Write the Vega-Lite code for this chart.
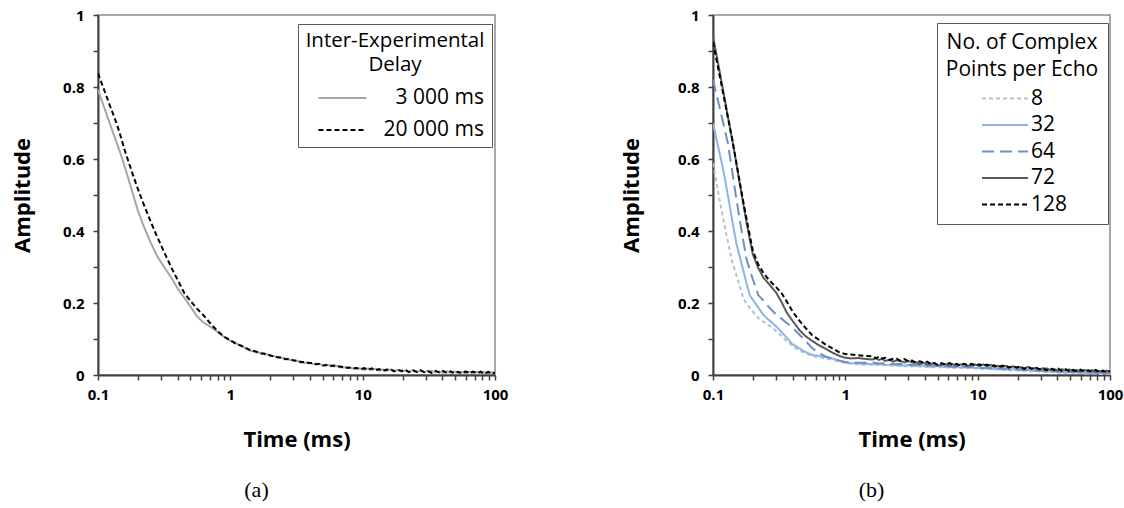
{
  "$schema": "https://vega.github.io/schema/vega-lite/v6.json",
  "background": "white",
  "padding": {"left": 10, "top": 7, "right": 0, "bottom": 0},
  "spacing": 110,
  "resolve": {"scale": {"color": "independent", "strokeDash": "independent"}, "legend": {"color": "independent", "strokeDash": "independent"}},
  "config": {
    "font": "Open Sans",
    "view": {"stroke": "#8c8c8c", "strokeWidth": 1.5},
    "axis": {
      "grid": false, "domainColor": "#404040", "domainWidth": 2,
      "tickColor": "#404040", "tickWidth": 1.5, "tickSize": 5,
      "labelFont": "Open Sans", "labelFontSize": 15, "labelFontWeight": "bold", "labelColor": "#000000",
      "titleFont": "Open Sans", "titleFontSize": 22, "titleFontWeight": "bold", "titleColor": "#000000",
      "labelOverlap": false, "labelFlush": false, "labelBound": false
    },
    "legend": {
      "labelFont": "Open Sans", "titleFont": "Open Sans", "labelColor": "#000000", "titleColor": "#000000",
      "strokeColor": "#595959", "fillColor": "white", "symbolStrokeWidth": 2, "symbolFillColor": "transparent"
    }
  },
  "hconcat": [
    {
      "width": 397, "height": 360,
      "title": {"text": "(a)", "orient": "bottom", "anchor": "middle", "frame": "group", "font": "Liberation Serif", "fontSize": 22, "fontWeight": "normal", "color": "#000000", "offset": 30, "dx": -40},
      "data": {"values": [
        {"t":0.1,"g":0.792,"d":0.838},{"t":0.11,"g":0.749,"d":0.797},{"t":0.12,"g":0.709,"d":0.759},{"t":0.13,"g":0.673,"d":0.725},
        {"t":0.14,"g":0.64,"d":0.693},{"t":0.15,"g":0.609,"d":0.657},{"t":0.16,"g":0.576,"d":0.622},{"t":0.18,"g":0.514,"d":0.565},
        {"t":0.2,"g":0.457,"d":0.517},{"t":0.22,"g":0.416,"d":0.477},{"t":0.25,"g":0.368,"d":0.426},{"t":0.28,"g":0.33,"d":0.384},
        {"t":0.32,"g":0.297,"d":0.337},{"t":0.36,"g":0.269,"d":0.297},{"t":0.4,"g":0.24,"d":0.264},{"t":0.45,"g":0.214,"d":0.227},
        {"t":0.5,"g":0.19,"d":0.206},{"t":0.56,"g":0.163,"d":0.184},{"t":0.63,"g":0.145,"d":0.165},{"t":0.7,"g":0.135,"d":0.145},
        {"t":0.8,"g":0.12,"d":0.122},{"t":0.9,"g":0.105,"d":0.106},{"t":1.0,"g":0.095,"d":0.097},{"t":1.1,"g":0.089,"d":0.087},
        {"t":1.25,"g":0.078,"d":0.079},{"t":1.4,"g":0.068,"d":0.07},
        {"t":1.6,"g":0.062,"d":0.064},{"t":1.7,"g":0.062,"d":0.06},{"t":1.8,"g":0.0575,"d":0.0595},{"t":1.9,"g":0.0575,"d":0.0555},
        {"t":2.0,"g":0.053,"d":0.055},{"t":2.15,"g":0.0525,"d":0.0505},{"t":2.3,"g":0.0475,"d":0.0495},{"t":2.45,"g":0.048,"d":0.048},
        {"t":2.6,"g":0.0455,"d":0.044},{"t":2.8,"g":0.042,"d":0.0445},{"t":3.0,"g":0.0425,"d":0.04},{"t":3.2,"g":0.0385,"d":0.0395},
        {"t":3.4,"g":0.038,"d":0.0355},{"t":3.65,"g":0.0335,"d":0.036},{"t":3.9,"g":0.035,"d":0.0335},{"t":4.15,"g":0.031,"d":0.0335},
        {"t":4.4,"g":0.0315,"d":0.03},{"t":4.7,"g":0.0315,"d":0.0305},{"t":5.0,"g":0.027,"d":0.0265},{"t":5.35,"g":0.0265,"d":0.028},
        {"t":5.7,"g":0.0275,"d":0.025},{"t":6.1,"g":0.024,"d":0.0265},{"t":6.5,"g":0.025,"d":0.0235},{"t":6.95,"g":0.0205,"d":0.023},
        {"t":7.4,"g":0.0215,"d":0.0195},{"t":7.9,"g":0.021,"d":0.021},{"t":8.4,"g":0.018,"d":0.0185},{"t":9.0,"g":0.0185,"d":0.0195},
        {"t":9.6,"g":0.018,"d":0.016},{"t":10.3,"g":0.0145,"d":0.019},{"t":11,"g":0.0185,"d":0.014},{"t":11.7,"g":0.014,"d":0.0185},
        {"t":12.5,"g":0.017,"d":0.0135},{"t":13.3,"g":0.012,"d":0.0165},{"t":14.2,"g":0.0155,"d":0.011},{"t":15.2,"g":0.0115,"d":0.015},
        {"t":16.2,"g":0.0155,"d":0.016},{"t":17.3,"g":0.0115,"d":0.01},{"t":18.5,"g":0.014,"d":0.014},{"t":19.7,"g":0.0095,"d":0.011},
        {"t":21,"g":0.0125,"d":0.0145},{"t":22.4,"g":0.009,"d":0.008},{"t":24,"g":0.0135,"d":0.013},{"t":25.6,"g":0.009,"d":0.0085},
        {"t":27.3,"g":0.012,"d":0.0135},{"t":29.2,"g":0.0075,"d":0.008},{"t":31.2,"g":0.011,"d":0.0105},{"t":33.3,"g":0.011,"d":0.006},
        {"t":35.5,"g":0.007,"d":0.0115},{"t":38,"g":0.0095,"d":0.007},{"t":40.5,"g":0.006,"d":0.0115},{"t":43.3,"g":0.01,"d":0.0055},
        {"t":46.2,"g":0.0065,"d":0.01},{"t":49.3,"g":0.01,"d":0.0045},{"t":52.6,"g":0.0055,"d":0.009},{"t":56.2,"g":0.0085,"d":0.0045},
        {"t":60,"g":0.0045,"d":0.01},{"t":64,"g":0.0088,"d":0.0048},{"t":68.4,"g":0.0056,"d":0.0096},{"t":73,"g":0.0089,"d":0.0049},
        {"t":78,"g":0.0042,"d":0.0092},{"t":83.2,"g":0.0075,"d":0.004},{"t":88.8,"g":0.0035,"d":0.0085},{"t":94.8,"g":0.0078,"d":0.0028},
        {"t":100,"g":0.0043,"d":0.0073}
      ]},
      "transform": [{"fold": ["g", "d"], "as": ["series", "v"]}, {"filter": "isValid(datum.v)"}],
      "mark": {"type": "line", "strokeWidth": 2, "clip": true},
      "encoding": {
        "x": {"field": "t", "type": "quantitative",
          "scale": {"type": "log", "domain": [0.1, 100], "nice": false},
          "axis": {"title": "Time (ms)", "values": [0.1,0.2,0.3,0.4,0.5,0.6,0.7,0.8,0.9,1,2,3,4,5,6,7,8,9,10,20,30,40,50,60,70,80,90,100],
            "labelExpr": "indexof([0.1,1,10,100], datum.value) >= 0 ? datum.value + '' : ''", "labelPadding": 7, "titlePadding": 27}},
        "y": {"field": "v", "type": "quantitative",
          "scale": {"domain": [0, 1], "nice": false},
          "axis": {"title": "Amplitude", "values": [0,0.1,0.2,0.3,0.4,0.5,0.6,0.7,0.8,0.9,1],
            "labelExpr": "round(datum.value*10)%2==0 ? datum.value + '' : ''", "labelPadding": 9, "titlePadding": 28}},
        "color": {"field": "series", "type": "nominal",
          "scale": {"domain": ["g", "d"], "range": ["#a6a6a6", "#000000"]},
          "legend": {"orient": "none", "legendX": 200, "legendY": 9, "direction": "vertical",
            "title": ["Inter-Experimental", "Delay"], "titleAnchor": "middle", "titleAlign": "center", "titleFontSize": 20.5, "titleFontWeight": "normal",
            "titleLineHeight": 24, "titlePadding": 12, "titleLimit": 400,
            "labelExpr": "datum.label == 'g' ? '3 000 ms' : '20 000 ms'", "labelFontSize": 21, "labelAlign": "right", "labelOffset": 131, "labelLimit": 300,
            "symbolType": "M-4,0H4", "symbolSize": 144, "symbolOffset": 27, "padding": 7, "rowPadding": 10}},
        "strokeDash": {"field": "series", "type": "nominal",
          "scale": {"domain": ["g", "d"], "range": [[1, 0], [5, 3]]},
          "legend": {"orient": "none", "legendX": 200, "legendY": 9, "direction": "vertical",
            "title": ["Inter-Experimental", "Delay"], "titleAnchor": "middle", "titleAlign": "center", "titleFontSize": 20.5, "titleFontWeight": "normal",
            "titleLineHeight": 24, "titlePadding": 12, "titleLimit": 400,
            "labelExpr": "datum.label == 'g' ? '3 000 ms' : '20 000 ms'", "labelFontSize": 21, "labelAlign": "right", "labelOffset": 131, "labelLimit": 300,
            "symbolType": "M-4,0H4", "symbolSize": 144, "symbolOffset": 27, "padding": 7, "rowPadding": 10}}
      }
    },
    {
      "width": 397, "height": 360,
      "title": {"text": "(b)", "orient": "bottom", "anchor": "middle", "frame": "group", "font": "Liberation Serif", "fontSize": 22, "fontWeight": "normal", "color": "#000000", "offset": 30, "dx": -40},
      "data": {"values": [
        {"t":0.1,"8":0.588,"32":0.699,"64":0.82,"72":0.94,"128":0.925},
        {"t":0.11,"8":0.503,"32":0.63,"64":0.756,"72":0.86,"128":0.848},
        {"t":0.12,"8":0.43,"32":0.567,"64":0.697,"72":0.785,"128":0.778},
        {"t":0.13,"8":0.367,"32":0.496,"64":0.641,"72":0.715,"128":0.713},
        {"t":0.14,"8":0.314,"32":0.428,"64":0.563,"72":0.652,"128":0.653},
        {"t":0.15,"8":0.278,"32":0.367,"64":0.49,"72":0.588,"128":0.591},
        {"t":0.16,"8":0.244,"32":0.326,"64":0.426,"72":0.528,"128":0.532},
        {"t":0.17,"8":0.212,"32":0.288,"64":0.369,"72":0.472,"128":0.478},
        {"t":0.18,"8":0.197,"32":0.252,"64":0.319,"72":0.42,"128":0.43},
        {"t":0.19,"8":0.186,"32":0.221,"64":0.292,"72":0.375,"128":0.386},
        {"t":0.2,"8":0.176,"32":0.209,"64":0.266,"72":0.335,"128":0.345},
        {"t":0.22,"8":0.158,"32":0.187,"64":0.222,"72":0.297,"128":0.307},
        {"t":0.24,"8":0.148,"32":0.167,"64":0.207,"72":0.271,"128":0.284},
        {"t":0.26,"8":0.14,"32":0.155,"64":0.192,"72":0.256,"128":0.268},
        {"t":0.28,"8":0.132,"32":0.145,"64":0.179,"72":0.242,"128":0.255},
        {"t":0.3,"8":0.122,"32":0.135,"64":0.168,"72":0.229,"128":0.244},
        {"t":0.33,"8":0.108,"32":0.119,"64":0.156,"72":0.202,"128":0.227},
        {"t":0.36,"8":0.095,"32":0.104,"64":0.145,"72":0.174,"128":0.205},
        {"t":0.4,"8":0.08,"32":0.085,"64":0.131,"72":0.15,"128":0.176},
        {"t":0.45,"8":0.068,"32":0.074,"64":0.112,"72":0.125,"128":0.151},
        {"t":0.5,"8":0.06,"32":0.064,"64":0.095,"72":0.108,"128":0.131},
        {"t":0.56,"8":0.053,"32":0.056,"64":0.075,"72":0.095,"128":0.111},
        {"t":0.63,"8":0.049,"32":0.053,"64":0.062,"72":0.083,"128":0.098},
        {"t":0.7,"8":0.046,"32":0.05,"64":0.052,"72":0.074,"128":0.086},
        {"t":0.8,"8":0.042,"32":0.046,"64":0.045,"72":0.062,"128":0.074},
        {"t":0.9,"8":0.037,"32":0.04,"64":0.04,"72":0.053,"128":0.063},
        {"t":1.0,"8":0.033,"32":0.035,"64":0.036,"72":0.048,"128":0.058},
        {"t":1.1,"8":0.031,"32":0.033,"64":0.035,"72":0.046,"128":0.057},
        {"t":1.25,"8":0.03,"32":0.032,"64":0.034,"72":0.047,"128":0.055},
        {"t":1.4,"8":0.029,"32":0.031,"64":0.034,"72":0.045,"128":0.053},
        {"t":1.6,"8":0.0295,"32":0.03,"64":0.035,"72":0.043,"128":0.052},
        {"t":1.7,"72":0.046,"128":0.047},
        {"t":1.8,"8":0.0275,"32":0.031,"64":0.032,"72":0.042,"128":0.051},
        {"t":1.9,"72":0.045,"128":0.046},
        {"t":2.0,"8":0.0275,"32":0.028,"64":0.033,"72":0.039,"128":0.048},
        {"t":2.15,"72":0.042,"128":0.042},
        {"t":2.3,"8":0.0255,"32":0.029,"64":0.03,"72":0.037,"128":0.045},
        {"t":2.45,"72":0.041,"128":0.045},
        {"t":2.6,"8":0.0255,"32":0.026,"64":0.031,"72":0.039,"128":0.04},
        {"t":2.8,"72":0.035,"128":0.044},
        {"t":3.0,"8":0.0235,"32":0.027,"64":0.028,"72":0.039,"128":0.038},
        {"t":3.2,"72":0.035,"128":0.04},
        {"t":3.4,"8":0.0245,"32":0.025,"64":0.03,"72":0.036,"128":0.034},
        {"t":3.65,"72":0.03,"128":0.038},
        {"t":3.9,"8":0.0225,"32":0.026,"64":0.026,"72":0.034,"128":0.034},
        {"t":4.15,"72":0.029,"128":0.037},
        {"t":4.4,"8":0.0225,"32":0.023,"64":0.027,"72":0.031,"128":0.031},
        {"t":4.7,"72":0.033,"128":0.033},
        {"t":5.0,"8":0.0215,"32":0.025,"64":0.025,"72":0.027,"128":0.028},
        {"t":5.35,"72":0.028,"128":0.033},
        {"t":5.7,"8":0.0215,"32":0.022,"64":0.026,"72":0.031,"128":0.028},
        {"t":6.1,"72":0.026,"128":0.033},
        {"t":6.5,"8":0.0195,"32":0.023,"64":0.023,"72":0.03,"128":0.029},
        {"t":6.95,"72":0.025,"128":0.031},
        {"t":7.4,"8":0.0205,"32":0.021,"64":0.025,"72":0.029,"128":0.026},
        {"t":7.9,"72":0.03,"128":0.031},
        {"t":8.4,"8":0.0185,"32":0.022,"64":0.022,"72":0.025,"128":0.027},
        {"t":9.0,"72":0.028,"128":0.031},
        {"t":9.6,"8":0.0185,"32":0.019,"64":0.023,"72":0.029,"128":0.026},
        {"t":10.3,"72":0.025,"128":0.0295},
        {"t":11,"8":0.0165,"32":0.02,"64":0.019,"72":0.0295,"128":0.025},
        {"t":11.7,"72":0.0245,"128":0.029},
        {"t":12.5,"8":0.0165,"32":0.017,"64":0.02,"72":0.028,"128":0.0245},
        {"t":13.3,"72":0.0225,"128":0.027},
        {"t":14.2,"8":0.0145,"32":0.018,"64":0.017,"72":0.0255,"128":0.021},
        {"t":15.2,"72":0.022,"128":0.0255},
        {"t":16.2,"8":0.0145,"32":0.015,"64":0.018,"72":0.0255,"128":0.026},
        {"t":17.3,"72":0.022,"128":0.0205},
        {"t":18.5,"8":0.0125,"32":0.016,"64":0.015,"72":0.024,"128":0.024},
        {"t":19.7,"72":0.0195,"128":0.021},
        {"t":21,"8":0.0125,"32":0.013,"64":0.016,"72":0.022,"128":0.024},
        {"t":22.4,"72":0.018,"128":0.017},
        {"t":24,"8":0.0105,"32":0.014,"64":0.013,"72":0.0225,"128":0.022},
        {"t":25.6,"72":0.0175,"128":0.017},
        {"t":27.3,"8":0.0105,"32":0.011,"64":0.014,"72":0.02,"128":0.0215},
        {"t":29.2,"72":0.0155,"128":0.016},
        {"t":31.2,"8":0.0085,"32":0.012,"64":0.011,"72":0.0185,"128":0.018},
        {"t":33.3,"72":0.018,"128":0.013},
        {"t":35.5,"8":0.0085,"32":0.009,"64":0.012,"72":0.014,"128":0.0185},
        {"t":38,"72":0.016,"128":0.0135},
        {"t":40.5,"8":0.0065,"32":0.01,"64":0.009,"72":0.0125,"128":0.018},
        {"t":43.3,"72":0.016,"128":0.0115},
        {"t":46.2,"8":0.0065,"32":0.007,"64":0.01,"72":0.0125,"128":0.016},
        {"t":49.3,"72":0.0155,"128":0.01},
        {"t":52.6,"8":0.0055,"32":0.009,"64":0.008,"72":0.011,"128":0.0145},
        {"t":56.2,"72":0.0135,"128":0.01},
        {"t":60,"8":0.0055,"32":0.006,"64":0.009,"72":0.0095,"128":0.015},
        {"t":64,"72":0.014,"128":0.0095},
        {"t":68.4,"8":0.0035,"32":0.007,"64":0.006,"72":0.01,"128":0.013},
        {"t":73,"72":0.0135,"128":0.0095},
        {"t":78,"8":0.0045,"32":0.005,"64":0.008,"72":0.009,"128":0.014},
        {"t":83.2,"72":0.0115,"128":0.008},
        {"t":88.8,"8":0.0025,"32":0.006,"64":0.005,"72":0.0075,"128":0.0125},
        {"t":94.8,"72":0.012,"128":0.007},
        {"t":100,"8":0.0035,"32":0.004,"64":0.007,"72":0.0085,"128":0.0115}
      ]},
      "transform": [{"fold": ["8", "32", "64", "72", "128"], "as": ["series", "v"]}, {"filter": "isValid(datum.v)"}],
      "mark": {"type": "line", "strokeWidth": 2, "clip": true},
      "encoding": {
        "x": {"field": "t", "type": "quantitative",
          "scale": {"type": "log", "domain": [0.1, 100], "nice": false},
          "axis": {"title": "Time (ms)", "values": [0.1,0.2,0.3,0.4,0.5,0.6,0.7,0.8,0.9,1,2,3,4,5,6,7,8,9,10,20,30,40,50,60,70,80,90,100],
            "labelExpr": "indexof([0.1,1,10,100], datum.value) >= 0 ? datum.value + '' : ''", "labelPadding": 7, "titlePadding": 27}},
        "y": {"field": "v", "type": "quantitative",
          "scale": {"domain": [0, 1], "nice": false},
          "axis": {"title": "Amplitude", "values": [0,0.1,0.2,0.3,0.4,0.5,0.6,0.7,0.8,0.9,1],
            "labelExpr": "round(datum.value*10)%2==0 ? datum.value + '' : ''", "labelPadding": 9, "titlePadding": 34}},
        "color": {"field": "series", "type": "nominal",
          "scale": {"domain": ["8", "32", "64", "72", "128"], "range": ["#b4c0d8", "#8db4e2", "#6f8fc9", "#595959", "#000000"]},
          "legend": {"orient": "none", "legendX": 224, "legendY": 8, "direction": "vertical",
            "title": ["No. of Complex", "Points per Echo"], "titleAnchor": "middle", "titleAlign": "center", "titleFontSize": 21, "titleFontWeight": "normal",
            "titleLineHeight": 27, "titlePadding": 8, "titleLimit": 400,
            "labelFontSize": 21, "labelOffset": 15.5, "labelLimit": 300,
            "symbolType": "M-4,0H4", "symbolSize": 132, "symbolOffset": 18.5, "padding": 9, "rowPadding": 4.5}},
        "strokeDash": {"field": "series", "type": "nominal",
          "scale": {"domain": ["8", "32", "64", "72", "128"], "range": [[4, 3], [1, 0], [12, 6], [1, 0], [5, 3]]},
          "legend": {"orient": "none", "legendX": 224, "legendY": 8, "direction": "vertical",
            "title": ["No. of Complex", "Points per Echo"], "titleAnchor": "middle", "titleAlign": "center", "titleFontSize": 21, "titleFontWeight": "normal",
            "titleLineHeight": 27, "titlePadding": 8, "titleLimit": 400,
            "labelFontSize": 21, "labelOffset": 15.5, "labelLimit": 300,
            "symbolType": "M-4,0H4", "symbolSize": 132, "symbolOffset": 18.5, "padding": 9, "rowPadding": 4.5}}
      }
    }
  ]
}
